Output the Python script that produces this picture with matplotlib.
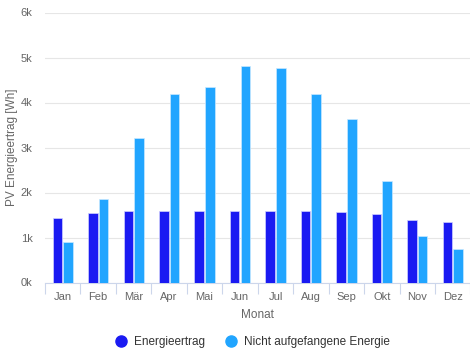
import matplotlib
matplotlib.use("Agg")
import matplotlib.pyplot as plt
import numpy as np
from matplotlib.lines import Line2D

plt.rcParams['font.family'] = ['Liberation Sans', 'DejaVu Sans']

# monthly PV values in Wh
months = ["Jan", "Feb", "Mär", "Apr", "Mai", "Jun", "Jul", "Aug", "Sep", "Okt", "Nov", "Dez"]
energieertrag = [1430, 1540, 1600, 1600, 1600, 1600, 1600, 1600, 1570, 1530, 1380, 1340]
nicht_aufgefangen = [910, 1850, 3220, 4200, 4350, 4820, 4770, 4200, 3630, 2250, 1030, 750]
yticks = [0, 1000, 2000, 3000, 4000, 5000, 6000]
ytick_labels = ["0k", "1k", "2k", "3k", "4k", "5k", "6k"]

c_dark = "#1A1AF2"
c_light = "#21A5FF"
grey = "#666666"

fig = plt.figure(figsize=(4.70, 3.53), dpi=100)
ax = fig.add_axes([45 / 470, 70.5 / 353, 425.5 / 470, 270 / 353])

x = np.arange(len(months))
w = 0.27
ax.bar(x - 0.15, energieertrag, w, color=c_dark, edgecolor="#d0d0ff", linewidth=0.5, zorder=3)
ax.bar(x + 0.15, nicht_aufgefangen, w, color=c_light, edgecolor="#c8e8ff", linewidth=0.5, zorder=3)

ax.set_xlim(-0.5, len(months) - 0.5)
ax.set_ylim(0, 6000)
ax.set_yticks(yticks)
ax.set_yticklabels(ytick_labels)
ax.set_xticks(x)
ax.set_xticklabels(months)
ax.tick_params(axis="x", length=0, colors=grey, labelsize=8, pad=7)
ax.tick_params(axis="y", length=0, colors=grey, labelsize=8, pad=9)

# category separators below the axis line
ax.set_xticks(np.arange(-0.5, len(months)), minor=True)
ax.tick_params(axis="x", which="minor", length=8, color="#ccd6eb", width=0.8)

ax.grid(axis="y", color="#e6e6e6", linewidth=0.8, zorder=0)
for s in ["top", "right", "left"]:
    ax.spines[s].set_visible(False)
ax.spines["bottom"].set_color("#ccd6eb")
ax.spines["bottom"].set_linewidth(0.8)

ax.set_xlabel("Monat", color=grey, fontsize=8.5, labelpad=5)
ax.set_ylabel("PV Energieertrag [Wh]", color=grey, fontsize=8.5)
ax.yaxis.set_label_coords(-27 / 425.5, 0.5)

handles = [
    Line2D([], [], marker="o", linestyle="none", markersize=8, color=c_dark),
    Line2D([], [], marker="o", linestyle="none", markersize=8, color=c_light),
]
fig.legend(handles, ["Energieertrag", "Nicht aufgefangene Energie"], loc="center",
           bbox_to_anchor=(250 / 470, 1 - 342 / 353), ncol=2, frameon=False,
           fontsize=8.5, handletextpad=0.1, columnspacing=1.2, labelcolor="#333333")

fig.savefig("out.png", dpi=100)
